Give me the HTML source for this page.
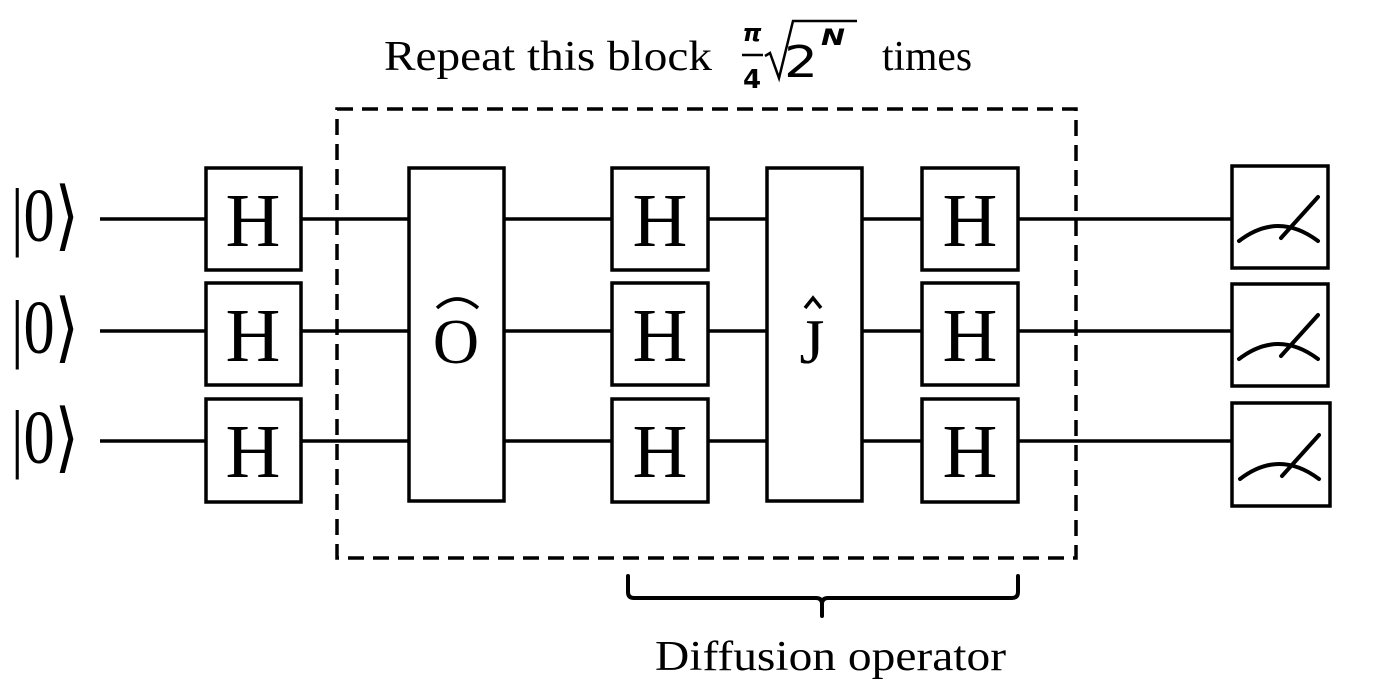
<!DOCTYPE html>
<html><head><style>html,body{margin:0;padding:0;background:#fff;}svg{display:block}</style></head>
<body>
<svg width="1374" height="698" viewBox="0 0 1374 698" xmlns="http://www.w3.org/2000/svg">
<g stroke="#000" stroke-width="3.5" fill="none">
<line x1="100" y1="219" x2="1232" y2="219"/>
<line x1="100" y1="331" x2="1232" y2="331"/>
<line x1="100" y1="441" x2="1232" y2="441"/>
</g>
<g stroke="#000" stroke-width="3.5" fill="#fff">
<rect x="206" y="168" width="95" height="102"/>
<rect x="206" y="283" width="95" height="102"/>
<rect x="206" y="399" width="95" height="103"/>
<rect x="409" y="168" width="95" height="333"/>
<rect x="612" y="168" width="96" height="102"/>
<rect x="612" y="283" width="96" height="102"/>
<rect x="612" y="399" width="96" height="103"/>
<rect x="767" y="168" width="95" height="333"/>
<rect x="922" y="168" width="96" height="102"/>
<rect x="922" y="283" width="96" height="102"/>
<rect x="922" y="399" width="96" height="103"/>
<rect x="1232" y="166" width="96" height="102"/>
<rect x="1232" y="284" width="96" height="102"/>
<rect x="1232" y="403" width="98" height="103"/>
</g>
<rect x="337" y="109" width="739" height="449" stroke="#000" stroke-width="3.5" fill="none" stroke-dasharray="16,9"/>
<g stroke="#000" stroke-width="4" fill="none" stroke-linecap="round">
<path d="M1239 241 Q1278 211 1318 241 M1281 238 L1318 197"/>
<path d="M1239 359 Q1278 329 1318 359 M1281 356 L1318 315"/>
<path d="M1240 479 Q1279 449 1319 479 M1282 476 L1319 435"/>
<path d="M628 576 L628 592 Q628 598 634 598 L816 598 Q822 598 822 604 L822 616 M822 604 Q822 598 828 598 L1012 598 Q1018 598 1018 592 L1018 576"/>
</g>
<g stroke="#000" stroke-width="3.5" fill="none">
<path d="M437 308 Q457 290 478 308"/>
<path d="M805 308 L813 298 L821 308"/>
</g>
<g font-family="Liberation Serif, serif" fill="#000" text-anchor="middle">
<text x="253" y="246" font-size="76">H</text>
<text x="253" y="361" font-size="76">H</text>
<text x="253" y="477" font-size="76">H</text>
<text x="660" y="246" font-size="76">H</text>
<text x="660" y="361" font-size="76">H</text>
<text x="660" y="477" font-size="76">H</text>
<text x="970" y="246" font-size="76">H</text>
<text x="970" y="361" font-size="76">H</text>
<text x="970" y="477" font-size="76">H</text>
<text x="456" y="363" font-size="64">O</text>
<text x="812" y="363" font-size="64">J</text>
</g>
<g font-family="Liberation Serif, serif" fill="#000">
<text x="11" y="241" font-size="76" textLength="68" lengthAdjust="spacingAndGlyphs">|0⟩</text>
<text x="11" y="353" font-size="76" textLength="68" lengthAdjust="spacingAndGlyphs">|0⟩</text>
<text x="11" y="463" font-size="76" textLength="68" lengthAdjust="spacingAndGlyphs">|0⟩</text>
<text x="655" y="670" font-size="42" textLength="351" lengthAdjust="spacingAndGlyphs">Diffusion operator</text>
<text x="384" y="70" font-size="42" textLength="328" lengthAdjust="spacingAndGlyphs">Repeat this block</text>
<text x="882" y="70" font-size="42" textLength="90" lengthAdjust="spacingAndGlyphs">times</text>
</g>
<g font-family="DejaVu Sans, sans-serif" fill="#000">
<text x="752" y="41" font-size="24" font-style="italic" font-weight="bold" text-anchor="middle">π</text>
<line x1="742" y1="55" x2="763" y2="55" stroke="#000" stroke-width="2.5"/>
<text x="752" y="88" font-size="26" font-weight="bold" text-anchor="middle">4</text>
<path d="M765 56 L770 53 L779 78 L793 21 L857 21" stroke="#000" stroke-width="2.5" fill="none"/>
<text x="784" y="77" font-size="44" textLength="34" lengthAdjust="spacingAndGlyphs">2</text>
<text x="821" y="45" font-size="22" font-style="italic" font-weight="bold" textLength="24" lengthAdjust="spacingAndGlyphs">N</text>
</g>
</svg>
</body></html>
